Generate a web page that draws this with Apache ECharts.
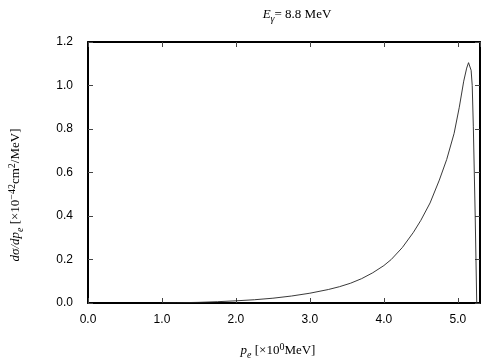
<!DOCTYPE html>
<html>
<head>
<meta charset="utf-8">
<title>E_gamma 8.8 MeV</title>
<script src="https://cdn.jsdelivr.net/npm/echarts@6/dist/echarts.min.js"></script>
</head>
<body style="margin:0">
<div id="main" style="width:504px;height:360px;"></div>
<script>
// p_e [MeV]
var pe = [1.0, 1.2, 1.5, 1.75, 2.0, 2.25, 2.5, 2.75, 3.0, 3.25, 3.4, 3.55, 3.7, 3.85, 4.0, 4.1, 4.25, 4.4, 4.5, 4.625, 4.75, 4.85, 4.95, 5.02, 5.08, 5.12, 5.145, 5.165, 5.18, 5.195, 5.21, 5.235, 5.256];
// dsigma/dp_e [1e-42 cm^2/MeV]
var dsig = [0, 0.001, 0.003, 0.006, 0.010, 0.015, 0.022, 0.032, 0.045, 0.062, 0.075, 0.091, 0.112, 0.139, 0.172, 0.2, 0.255, 0.325, 0.38, 0.46, 0.565, 0.66, 0.78, 0.9, 1.02, 1.08, 1.105, 1.1, 1.07, 1.0, 0.81, 0.4, 0];

var pts = [];
for (var i = 0; i < pe.length; i++) {
  pts.push([pe[i], dsig[i]]);
}

var serif = '"Liberation Serif", "DejaVu Serif", serif';
var sans = '"Liberation Sans", Arial, sans-serif';

var chart = echarts.init(document.getElementById('main'));

function xAx(pos, lbl) {
  return {
    type: 'value', position: pos, min: 0, max: 5.3, interval: 1,
    axisLine: { show: true, onZero: false, lineStyle: { color: '#000', width: 2 } },
    axisTick: { show: true, inside: true, length: 5, lineStyle: { color: '#444', width: 1 } },
    axisLabel: { show: lbl, showMaxLabel: false, margin: 11, color: '#000', fontSize: 12, fontFamily: sans,
      formatter: function (v) { return v.toFixed(1); } },
    splitLine: { show: false }
  };
}
function yAx(pos, lbl) {
  return {
    type: 'value', position: pos, min: 0, max: 1.2, interval: 0.2,
    axisLine: { show: true, onZero: false, lineStyle: { color: '#000', width: 2 } },
    axisTick: { show: true, inside: true, length: 5, lineStyle: { color: '#444', width: 1 } },
    axisLabel: { show: lbl, margin: 15, color: '#000', fontSize: 12, fontFamily: sans,
      formatter: function (v) { return v.toFixed(1); } },
    splitLine: { show: false }
  };
}

var richSet = {
  i: { fontFamily: serif, fontStyle: 'italic', fontSize: 13, lineHeight: 18 },
  sub: { fontFamily: serif, fontStyle: 'italic', fontSize: 10, lineHeight: 10, verticalAlign: 'bottom' },
  sup: { fontFamily: serif, fontSize: 10, lineHeight: 10, verticalAlign: 'top' },
  n: { fontFamily: serif, fontSize: 13, lineHeight: 18 }
};

var option = {
  animation: false,
  backgroundColor: '#fff',
  grid: { left: 88, right: 24, top: 42, bottom: 57 },
  xAxis: [xAx('bottom', true), xAx('top', false)],
  yAxis: [yAx('left', true), yAx('right', false)],
  graphic: [
    {
      type: 'text', x: 297, y: 15,
      style: {
        text: '{i|E}{sub|γ}{n|= 8.8 MeV}',
        align: 'center', verticalAlign: 'middle', rich: richSet
      }
    },
    {
      type: 'text', x: 278, y: 351,
      style: {
        text: '{i|p}{sub|e}{n| [×10}{sup|0}{n|MeV]}',
        align: 'center', verticalAlign: 'middle', rich: richSet
      }
    },
    {
      type: 'text', x: 16, y: 195, rotation: Math.PI / 2,
      style: {
        text: '{i|dσ/dp}{sub|e}{n| [×10}{sup|−42}{n|cm}{sup|2}{n|/MeV]}',
        align: 'center', verticalAlign: 'middle', rich: richSet
      }
    }
  ],
  series: [{
    type: 'line',
    data: pts,
    showSymbol: false,
    smooth: false,
    clip: true,
    lineStyle: { color: '#222', width: 0.9 }
  }]
};
chart.setOption(option);
</script>
</body>
</html>
